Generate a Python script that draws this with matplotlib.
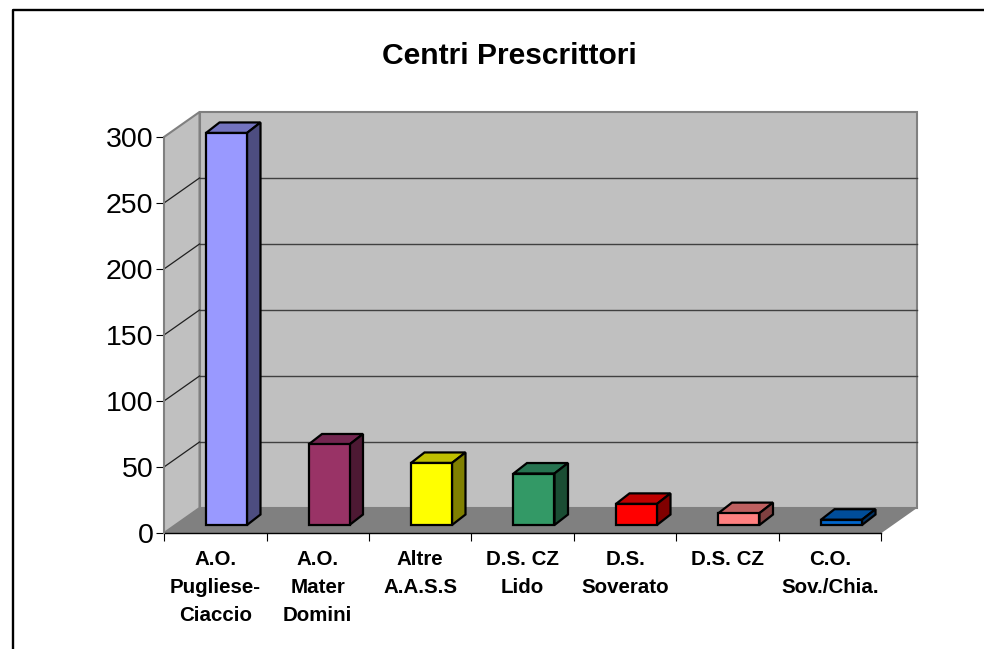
import matplotlib
matplotlib.use("Agg")
import matplotlib.pyplot as plt
from matplotlib.patches import Polygon, Rectangle
from matplotlib.lines import Line2D
from matplotlib.transforms import Affine2D

plt.rcParams['font.family'] = ['Liberation Sans', 'DejaVu Sans']

title = "Centri Prescrittori"
categories = ["A.O.\nPugliese-\nCiaccio", "A.O.\nMater\nDomini", "Altre\nA.A.S.S",
              "D.S. CZ\nLido", "D.S.\nSoverato", "D.S. CZ", "C.O.\nSov./Chia."]
values = [297, 61, 47, 39, 16, 9, 4]
yticks = [0, 50, 100, 150, 200, 250, 300]
face = ["#9999FF", "#993366", "#FFFF00", "#339966", "#FF0000", "#FF8080", "#0066CC"]
top = ["#7373BF", "#732650", "#BFBF00", "#267350", "#BF0000", "#BF6060", "#004D99"]
side = ["#4D4D80", "#4D1933", "#808000", "#1A4D33", "#800000", "#804040", "#003366"]

W, H = 984, 649
fig = plt.figure(figsize=(W / 100, H / 100), dpi=100, facecolor="white")
L, R, T, B = 164, 881.5, 137, 533
ax = fig.add_axes([L / W, 1 - B / H, (R - L) / W, (B - T) / H])
ax.set_xlim(0, 7)
ax.set_ylim(0, 300)
ax.patch.set_visible(False)
for s in ax.spines.values():
    s.set_visible(False)

DX, DY = 35.5, 25         # depth of the 3-D box, px


def off(px, py):
    return ax.transData + Affine2D().translate(px, py)


# walls and floor (data coords + pixel depth)
wall_c, floor_c, edge = "#C0C0C0", "#808080", "#808080"
ax.add_patch(Rectangle((0, 0), 7, 300, transform=off(DX, DY), fc=wall_c, ec=edge, lw=1.5, clip_on=False, zorder=1))
to_px = ax.transData.transform
p00, p03, p70 = to_px((0, 0)), to_px((0, 300)), to_px((7, 0))
id_t = None
ax.add_patch(Polygon([p00, p03, (p03[0] + DX, p03[1] + DY), (p00[0] + DX, p00[1] + DY)], closed=True,
                     transform=id_t, fc=wall_c, ec=edge, lw=1.5, clip_on=False, zorder=1))
ax.add_patch(Polygon([p00, p70, (p70[0] + DX, p70[1] + DY), (p00[0] + DX, p00[1] + DY)], closed=True,
                     transform=id_t, fc=floor_c, ec="none", clip_on=False, zorder=2))

# gridlines
for v in yticks[1:-1]:
    ax.plot([0, 7], [v, v], transform=off(DX, DY), color="#404040", lw=1.0, clip_on=False, zorder=2)
    a = to_px((0, v))
    ax.add_artist(Line2D([a[0], a[0] + DX], [a[1], a[1] + DY], transform=id_t, color="#202020", lw=0.9, zorder=2))
# floor front line and left axis
ax.plot([0, 7], [0, 0], color="black", lw=1.0, clip_on=False, zorder=3)
ax.plot([0, 0], [0, 300], color="#808080", lw=1.4, clip_on=False, zorder=3)
a = to_px((7, 0))
ax.add_artist(Line2D([a[0], a[0] + DX], [a[1], a[1] + DY], transform=id_t, color="black", lw=0.9, zorder=3))

# bars
BX, BY = 11.25, 8         # bar front shift from the front plane, px
SX, SY = 13.5, 10.5       # bar depth, px
width = 0.40
xs = [i + 0.5 for i in range(len(values))]
ax.bar(xs, values, width=width, color=face, edgecolor="black", linewidth=1.6,
       transform=off(BX, BY), clip_on=False, zorder=6)
for x, v, ct, cs in zip(xs, values, top, side):
    l, r = x - width / 2, x + width / 2
    pa = ax.transData.transform((l, v))
    pb = ax.transData.transform((r, v))
    pc = ax.transData.transform((r, 0))
    sh = lambda p, dx=0, dy=0: (p[0] + BX + dx, p[1] + BY + dy)
    ax.add_patch(Polygon([sh(pa), sh(pb), sh(pb, SX, SY), sh(pa, SX, SY)], closed=True, transform=None,
                         fc=ct, ec="black", lw=1.6, joinstyle="miter", clip_on=False, zorder=5))
    ax.add_patch(Polygon([sh(pc), sh(pb), sh(pb, SX, SY), sh(pc, SX, SY)], closed=True, transform=None,
                         fc=cs, ec="black", lw=1.6, joinstyle="miter", clip_on=False, zorder=5))

# axes ticks
ax.set_yticks(yticks)
ax.set_yticklabels([str(v) for v in yticks], fontsize=20.5, color="black")
ax.tick_params(axis="y", length=5.5, width=0.8, pad=2, colors="black", direction="out")
ax.set_xticks(range(8))
ax.set_xticklabels([""] * 8)
ax.tick_params(axis="x", length=5.5, width=0.8, colors="black", direction="out")
for x, c in zip(xs, categories):
    ax.annotate(c, xy=(x, 0), xytext=(0, -12.5), textcoords="offset points", ha="center", va="top",
                fontsize=14.8, fontweight="bold", linespacing=1.6, annotation_clip=False)

# title
fig.text(509.5 / W, 1 - 55.5 / H, title, ha="center", va="center", fontsize=21.6, fontweight="bold")

# chart frame (right and bottom run off the picture)
fig.add_artist(Line2D([12.5 / W, 12.5 / W, 1], [0, 1 - 9.5 / H, 1 - 9.5 / H], color="black", lw=1.7))
fig.savefig("out.png", dpi=100, facecolor="white")
